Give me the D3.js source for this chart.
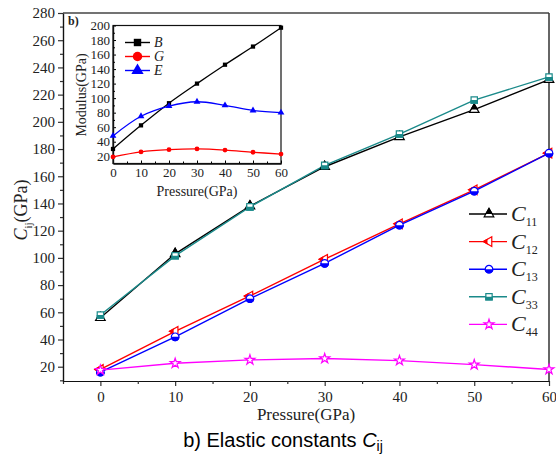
<!DOCTYPE html>
<html>
<head>
<meta charset="utf-8">
<script src="https://cdn.jsdelivr.net/npm/d3@7"></script>
<style>
  body { margin: 0; background: #fff; }
</style>
</head>
<body>
<div id="chart"></div>
<script>
// pressure points (GPa)
var pressure = [0, 10, 20, 30, 40, 50, 60];

// elastic constants Cij (GPa)
var c11 = [56, 103, 138, 167, 189, 209, 231];
var c12 = [18, 46, 72, 99, 125, 150, 177];
var c13 = [16, 42, 70, 96, 124, 149, 177];
var c33 = [58, 101.5, 137.5, 168, 191, 216, 233];
var c44 = [17.5, 22.5, 25, 26, 24.5, 21.5, 18];

// inset: moduli (GPa)
var bulkB = [30, 62.5, 93, 120, 146, 171, 197];
var shearG = [19, 26, 29, 30, 28.5, 25.5, 23];
var youngE = [48, 75, 89, 95, 90, 83, 80];

var mainXTicks = [0, 10, 20, 30, 40, 50, 60];
var mainYTicks = [20, 40, 60, 80, 100, 120, 140, 160, 180, 200, 220, 240, 260, 280];
var insetXTicks = [0, 10, 20, 30, 40, 50, 60];
var insetYTicks = [20, 40, 60, 80, 100, 120, 140, 160, 180, 200];

var width = 556, height = 454;
var serif = "'Liberation Serif', 'Times New Roman', 'DejaVu Serif', serif";

var svg = d3.select("#chart").append("svg")
    .attr("width", width)
    .attr("height", height)
    .attr("font-family", serif);

// clip paths for half filled markers (local marker coordinates)
var defs = svg.append("defs");
defs.append("clipPath").attr("id", "halfTop").append("rect")
    .attr("x", -10).attr("y", -10).attr("width", 20).attr("height", 10);
defs.append("clipPath").attr("id", "halfBottom").append("rect")
    .attr("x", -10).attr("y", 0).attr("width", 20).attr("height", 10);
defs.append("clipPath").attr("id", "halfLeft").append("rect")
    .attr("x", -10).attr("y", -10).attr("width", 8.5).attr("height", 20);

// main scales
var x = d3.scaleLinear().domain([-5, 60]).range([63, 549]);
var y = d3.scaleLinear().domain([9.5, 280]).range([381, 13]);

// main axes
var xAxis = svg.append("g").attr("transform", "translate(0,381)")
    .call(d3.axisBottom(x).tickValues(mainXTicks).tickSize(5).tickPadding(5).tickSizeOuter(0));
svg.append("g").attr("transform", "translate(0,381)")
    .call(d3.axisBottom(x).tickValues(d3.range(-5, 60, 10)).tickSize(3).tickFormat("").tickSizeOuter(0));
var yAxis = svg.append("g").attr("transform", "translate(63,0)")
    .call(d3.axisLeft(y).tickValues(mainYTicks).tickSize(5).tickPadding(3).tickSizeOuter(0));
svg.append("g").attr("transform", "translate(63,0)")
    .call(d3.axisLeft(y).tickValues(d3.range(10, 280, 20)).tickSize(3).tickFormat("").tickSizeOuter(0));

svg.selectAll(".domain").attr("stroke", "#333").attr("stroke-width", 1.5);
svg.selectAll(".tick line").attr("stroke", "#333").attr("stroke-width", 1.2);
xAxis.selectAll("text").style("font-size", "15px");
yAxis.selectAll("text").style("font-size", "15px");

// top and right frame
svg.append("line").attr("x1", 63).attr("x2", 549).attr("y1", 13).attr("y2", 13)
    .attr("stroke", "#444").attr("stroke-width", 1.5);
svg.append("line").attr("x1", 549).attr("x2", 549).attr("y1", 13).attr("y2", 381)
    .attr("stroke", "#333").attr("stroke-width", 1.5);

// axis titles
var yTitle = svg.append("text")
    .attr("transform", "translate(27,210) rotate(-90)")
    .attr("text-anchor", "middle")
    .style("font-size", "18px");
yTitle.append("tspan").style("font-style", "italic").text("C");
yTitle.append("tspan").attr("dy", 5).style("font-size", "11px").text("ij");
yTitle.append("tspan").attr("dy", -5).text("(GPa)");

svg.append("text").attr("x", 306).attr("y", 420)
    .attr("text-anchor", "middle").style("font-size", "17px")
    .text("Pressure(GPa)");

// caption
var cap = svg.append("text").attr("x", 283).attr("y", 447)
    .attr("text-anchor", "middle")
    .style("font-family", "'Liberation Sans', Arial, sans-serif")
    .style("font-size", "20px").style("fill", "#000");
cap.append("tspan").text("b) Elastic constants ");
cap.append("tspan").style("font-style", "italic").text("C");
cap.append("tspan").attr("dy", 4).style("font-size", "14px").text("ij");

// marker drawing
function drawMarker(g, m) {
    var p = d3.symbol().type(m.type).size(m.size)();
    var rot = m.rotate ? "rotate(" + m.rotate + ")" : "";
    g.append("path").attr("d", p).attr("transform", rot)
        .attr("fill", "#fff").attr("stroke", m.color).attr("stroke-width", 1.2);
    if (m.half) {
        g.append("g").attr("clip-path", "url(#" + m.half + ")")
            .append("path").attr("d", p).attr("transform", rot)
            .attr("fill", m.color).attr("stroke", m.color).attr("stroke-width", 1.2);
    }
}

var mainSeries = [
    { name: "11", values: c11, color: "#000000", type: d3.symbolTriangle, size: 40, half: "halfTop" },
    { name: "12", values: c12, color: "#ff0000", type: d3.symbolTriangle, size: 40, rotate: -90, half: "halfLeft" },
    { name: "13", values: c13, color: "#0000ff", type: d3.symbolCircle, size: 45, half: "halfBottom" },
    { name: "33", values: c33, color: "#1a8a8a", type: d3.symbolSquare, size: 40, half: "halfBottom" },
    { name: "44", values: c44, color: "#ff00ff", type: d3.symbolStar, size: 30 }
];

var line = d3.line()
    .x(function(d, i) { return x(pressure[i]); })
    .y(function(d) { return y(d); });

mainSeries.forEach(function(s) {
    svg.append("path").datum(s.values)
        .attr("fill", "none").attr("stroke", s.color).attr("stroke-width", 1.4)
        .attr("d", line);
});
mainSeries.forEach(function(s) {
    s.values.forEach(function(v, i) {
        var g = svg.append("g").attr("transform", "translate(" + x(pressure[i]) + "," + y(v) + ")");
        drawMarker(g, s);
    });
});

// main legend
mainSeries.forEach(function(s, i) {
    var ly = 214 + i * 27.6;
    svg.append("line").attr("x1", 469).attr("x2", 507).attr("y1", ly).attr("y2", ly)
        .attr("stroke", s.color).attr("stroke-width", 1.4);
    drawMarker(svg.append("g").attr("transform", "translate(489," + ly + ")"), s);
    var t = svg.append("text").attr("x", 511).attr("y", ly + 7).style("font-size", "22px");
    t.append("tspan").style("font-style", "italic").text("C");
    t.append("tspan").attr("dy", 5).style("font-size", "12px").text(s.name);
});

// "b)" label
svg.append("text").attr("x", 68).attr("y", 25)
    .style("font-size", "12px").style("font-weight", "bold").text("b)");

// inset
var xi = d3.scaleLinear().domain([0, 60]).range([113, 281]);
var yi = d3.scaleLinear().domain([10, 200]).range([163.5, 25.5]);

svg.append("rect").attr("x", 113).attr("y", 25.5).attr("width", 168).attr("height", 138)
    .attr("fill", "#fff").attr("stroke", "#111").attr("stroke-width", 1.2);

var ixAxis = svg.append("g").attr("transform", "translate(0,163.5)")
    .call(d3.axisBottom(xi).tickValues(insetXTicks).tickSize(-3).tickPadding(4).tickSizeOuter(0));
svg.append("g").attr("transform", "translate(0,163.5)")
    .call(d3.axisBottom(xi).tickValues(d3.range(5, 60, 10)).tickSize(-2).tickFormat("").tickSizeOuter(0));
var iyAxis = svg.append("g").attr("transform", "translate(113,0)")
    .call(d3.axisLeft(yi).tickValues(insetYTicks).tickSize(-3).tickPadding(3).tickSizeOuter(0));
svg.append("g").attr("transform", "translate(113,0)")
    .call(d3.axisLeft(yi).tickValues(d3.range(30, 200, 20)).tickSize(-2).tickFormat("").tickSizeOuter(0));
ixAxis.selectAll("text").style("font-size", "13px");
iyAxis.selectAll("text").style("font-size", "13px");
svg.selectAll(".domain").attr("stroke", "#111").attr("stroke-width", 1.2);

svg.append("text").attr("x", 197).attr("y", 196)
    .attr("text-anchor", "middle").style("font-size", "14px").text("Pressure(GPa)");
svg.append("text").attr("transform", "translate(86,95) rotate(-90)")
    .attr("text-anchor", "middle").style("font-size", "14px").text("Modulus(GPa)");

var insetSeries = [
    { name: "B", values: bulkB, color: "#000000", type: d3.symbolSquare, size: 18, legendSize: 55 },
    { name: "G", values: shearG, color: "#ff0000", type: d3.symbolCircle, size: 18, legendSize: 70 },
    { name: "E", values: youngE, color: "#0000ff", type: d3.symbolTriangle, size: 20, legendSize: 65 }
];

var iline = d3.line()
    .curve(d3.curveCatmullRom)
    .x(function(d, i) { return xi(pressure[i]); })
    .y(function(d) { return yi(d); });

insetSeries.forEach(function(s) {
    svg.append("path").datum(s.values)
        .attr("fill", "none").attr("stroke", s.color).attr("stroke-width", 1.3)
        .attr("d", iline);
});
insetSeries.forEach(function(s) {
    svg.selectAll(null).data(s.values).enter().append("path")
        .attr("d", d3.symbol().type(s.type).size(s.size))
        .attr("transform", function(d, i) { return "translate(" + xi(pressure[i]) + "," + yi(d) + ")"; })
        .attr("fill", s.color);
});

insetSeries.forEach(function(s, i) {
    var ly = 42.5 + i * 14;
    svg.append("line").attr("x1", 125).attr("x2", 150).attr("y1", ly).attr("y2", ly)
        .attr("stroke", s.color).attr("stroke-width", 1.4);
    svg.append("path").attr("d", d3.symbol().type(s.type).size(s.legendSize))
        .attr("transform", "translate(137.5," + ly + ")")
        .attr("fill", s.color);
    svg.append("text").attr("x", 154).attr("y", ly + 4.5)
        .style("font-size", "14px").style("font-style", "italic").text(s.name);
});

// all text in the serif face used by the figure, in the near black ink
svg.selectAll("text").filter(function() { return !this.style.fontFamily; })
    .style("font-family", serif).style("fill", "#222");
</script>
</body>
</html>
